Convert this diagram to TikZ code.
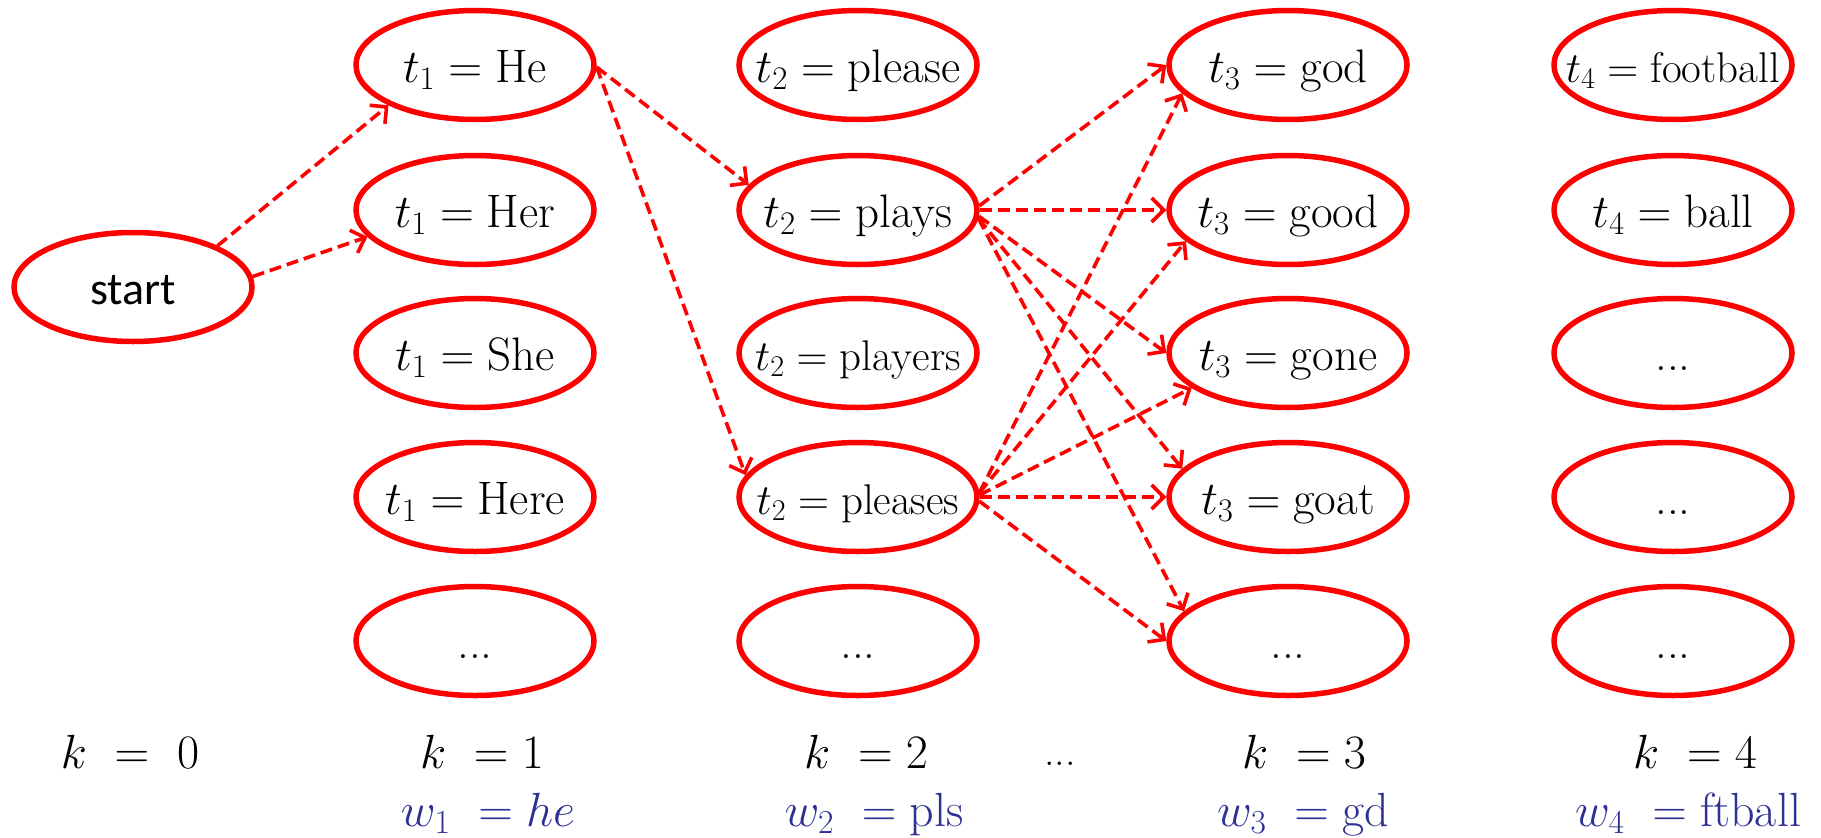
\RequirePackage{fix-cm}
\documentclass[tikz,border=0pt]{standalone}
\usepackage{fontspec}
\newfontfamily\calibri{Carlito}
\usetikzlibrary{shapes.geometric,arrows.meta}
\definecolor{lblblue}{RGB}{46,49,146}
\begin{document}
\begin{tikzpicture}[x=1pt,y=-1pt,
  st/.style={ellipse,draw=red,line width=5.5pt,minimum width=238pt,minimum height=109pt,
    inner sep=0pt,font=\fontsize{47}{52}\selectfont,text height=34pt,text depth=0pt},
  small/.style={font=\fontsize{43}{48}\selectfont},
  ar/.style={draw=red,line width=3.6pt,dash pattern=on 12pt off 6pt,
    -{Straight Barb[length=12pt,width=24pt,line width=3.6pt]}},
  klab/.style={anchor=base,inner sep=0pt,font=\fontsize{48}{54}\selectfont},
  wlab/.style={anchor=base,inner sep=0pt,font=\fontsize{48}{54}\selectfont,text=lblblue}]
\useasboundingbox (0,0) rectangle (1821,838);
% start
\node[st,font=\calibri\fontsize{46}{54}\selectfont] (S) at (133,287) {\makebox[0pt]{start}};
% column 1
\node[st] (a1) at (475,65)  {\makebox[0pt]{$t_1 = \mathrm{He}$}};
\node[st] (a2) at (475,210) {\makebox[0pt]{$t_1 = \mathrm{Her}$}};
\node[st] (a3) at (475,353) {\makebox[0pt]{$t_1 = \mathrm{She}$}};
\node[st] (a4) at (475,497) {\makebox[0pt]{$t_1 = \mathrm{Here}$}};
\node[st] (a5) at (475,641) {\makebox[0pt]{...}};
% column 2
\node[st] (b1) at (858,65)  {\makebox[0pt]{$t_2 = \mathrm{please}$}};
\node[st] (b2) at (858,210) {\makebox[0pt]{$t_2 = \mathrm{plays}$}};
\node[st,small] (b3) at (858,353) {\makebox[0pt]{$t_2 = \mathrm{players}$}};
\node[st,small] (b4) at (858,497) {\makebox[0pt]{$t_2 = \mathrm{pleases}$}};
\node[st] (b5) at (858,641) {\makebox[0pt]{...}};
% column 3
\node[st] (c1) at (1288,65)  {\makebox[0pt]{$t_3 = \mathrm{god}$}};
\node[st] (c2) at (1288,210) {\makebox[0pt]{$t_3 = \mathrm{good}$}};
\node[st] (c3) at (1288,353) {\makebox[0pt]{$t_3 = \mathrm{gone}$}};
\node[st] (c4) at (1288,497) {\makebox[0pt]{$t_3 = \mathrm{goat}$}};
\node[st] (c5) at (1288,641) {\makebox[0pt]{...}};
% column 4
\node[st,small] (d1) at (1673,65)  {\makebox[0pt]{$t_4 = \mathrm{football}$}};
\node[st] (d2) at (1673,210) {\makebox[0pt]{$t_4 = \mathrm{ball}$}};
\node[st] (d3) at (1673,353) {\makebox[0pt]{...}};
\node[st] (d4) at (1673,497) {\makebox[0pt]{...}};
\node[st] (d5) at (1673,641) {\makebox[0pt]{...}};
% arrows
\draw[ar] (S.26) -- (a1.205);
\draw[ar] (S.5) -- (a2.194);
\draw[ar] (a1.-1) -- (b2.167);
\draw[ar] (a1.-1) -- (b4.169);
\draw[ar] (b2.2) -- (c1.180);
\draw[ar] (b2.0) -- (c2.180);
\draw[ar] (b2.-3) -- (c3.180);
\draw[ar] (b2.-4) -- (c4.165);
\draw[ar] (b2.-4) -- (c5.164);
\draw[ar] (b4.2) -- (c1.195);
\draw[ar] (b4.2) -- (c2.197);
\draw[ar] (b4.1) -- (c3.200);
\draw[ar] (b4.0) -- (c4.180);
\draw[ar] (b4.-2) -- (c5.180);
% bottom labels
\node[klab] (k0) at (130,768) {$k\ =\ 0$};
\node[klab] (k1) at (482,768) {$k\ = 1$};
\node[klab] (k2) at (866,768) {$k\ = 2$};
\node[klab] (kd) at (1060,765) {\fontsize{42}{48}\selectfont ...};
\node[klab] (k3) at (1304,768) {$k\ = 3$};
\node[klab] (k4) at (1695,768) {$k\ = 4$};
\node[wlab] (w1) at (488,826) {$w_1\ = he$};
\node[wlab] (w2) at (874,826) {$w_2\ = \mathrm{pls}$};
\node[wlab] (w3) at (1303,826) {$w_3\ = \mathrm{gd}$};
\node[wlab] (w4) at (1688,826) {$w_4\ = \mathrm{ftball}$};
\end{tikzpicture}
\end{document}
